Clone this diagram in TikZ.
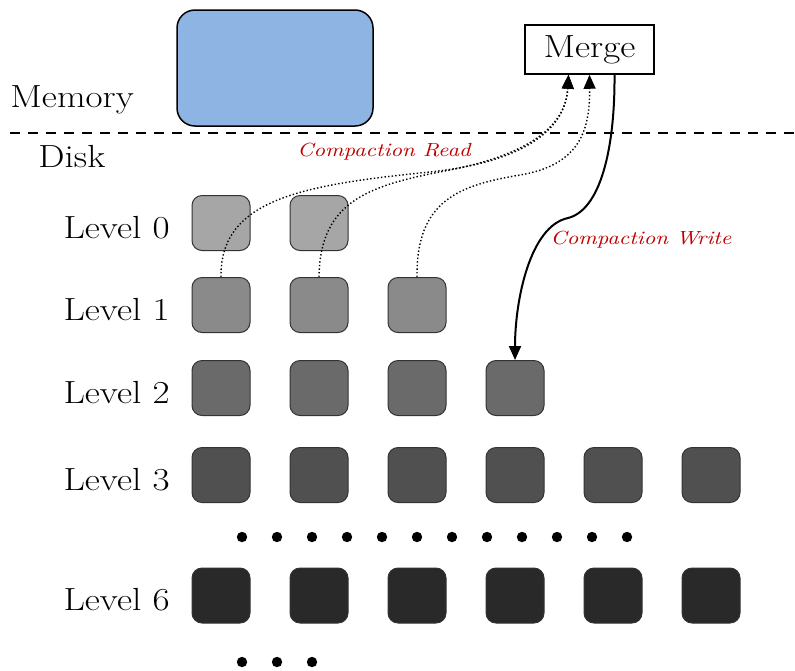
\documentclass[tikz,border=0pt]{standalone}
\usepackage{fontspec}
\setmainfont{Latin Modern Roman}[FakeStretch=1.16]
\usetikzlibrary{arrows.meta}
\definecolor{memblue}{RGB}{141,180,226}
\definecolor{lvlzero}{RGB}{166,166,166}
\definecolor{lvlone}{RGB}{138,138,138}
\definecolor{lvltwo}{RGB}{106,106,106}
\definecolor{lvlthree}{RGB}{80,80,80}
\definecolor{lvlsix}{RGB}{41,41,41}
\definecolor{labelred}{RGB}{192,0,0}
\tikzset{
  blk/.style={draw=black!80, line width=0.5pt, rounded corners=5pt,
    minimum width=29pt, minimum height=27.5pt, inner sep=0pt},
  txt/.style={inner sep=0pt, font=\fontsize{16}{18}\selectfont},
  red lbl/.style={inner sep=0pt, text=labelred, font=\fontsize{9.5}{11}\selectfont\itshape},
  rdarrow/.style={line width=0.7pt, dash pattern=on 0.7pt off 1.1pt,
    -{Triangle[length=7pt,width=6pt]}},
  wrarrow/.style={line width=1pt, -{Triangle[length=7pt,width=6pt]}},
}
\begin{document}
\begin{tikzpicture}[x=0.5pt,y=-0.5pt]
  \useasboundingbox (0,0) rectangle (795,670);
  % memory side
  \node[draw, line width=0.75pt, rounded corners=9pt, fill=memblue,
    minimum width=98pt, minimum height=58pt] (mem) at (275,68) {};
  \node[txt, anchor=base west] (memtxt) at (10,107) {Memory};
  \node[draw, line width=0.75pt, minimum width=64.5pt, minimum height=24.5pt,
    font=\fontsize{16}{18}\selectfont] (merge) at (589.5,49.5) {Merge};
  \draw[line width=1.3pt, dash pattern=on 5pt off 4pt] (10,133) -- (795,133);
  \node[txt, anchor=base west] (disk) at (38,167) {Disk};
  % levels
  \foreach \lv/\yy/\nb/\col in {0/223/2/lvlzero,1/305/3/lvlone,2/388/4/lvltwo,3/475/6/lvlthree,6/595.5/6/lvlsix}{
    \node[txt, anchor=base east] (lbl\lv) at (170,\yy+15) {Level \lv};
    \foreach \i in {1,...,\nb}
      \node[blk, fill=\col] (l\lv c\i) at ({221+98*(\i-1)},\yy) {};
  }
  \foreach \i in {0,...,11}
    \fill ({242+35*\i},537) circle (2.6pt);
  \foreach \i in {0,...,2}
    \fill ({242+35*\i},662) circle (2.6pt);
  % compaction
  \draw[rdarrow] (l1c1.north) .. controls (220,200) and (300,185) .. (430,172)
    .. controls (540,160) and (566,120) .. ([xshift=-10.5pt]merge.south);
  \draw[rdarrow] (l1c2.north) .. controls (320,200) and (370,185) .. (450,170)
    .. controls (540,152) and (566,120) .. ([xshift=-10.5pt]merge.south);
  \draw[rdarrow] (l1c3.north) .. controls (416,200) and (460,185) .. (520,175)
    .. controls (580,165) and (590,130) .. (merge.south);
  \draw[wrarrow] ([xshift=12.5pt]merge.south) .. controls (615,150) and (600,210) .. (568,218)
    .. controls (530,226) and (515,300) .. (l2c4.north);
  \node[red lbl] (rdlbl) at (384,152) {Compaction Read};
  \node[red lbl] (wrlbl) at (641,240) {Compaction Write};
\end{tikzpicture}
\end{document}
